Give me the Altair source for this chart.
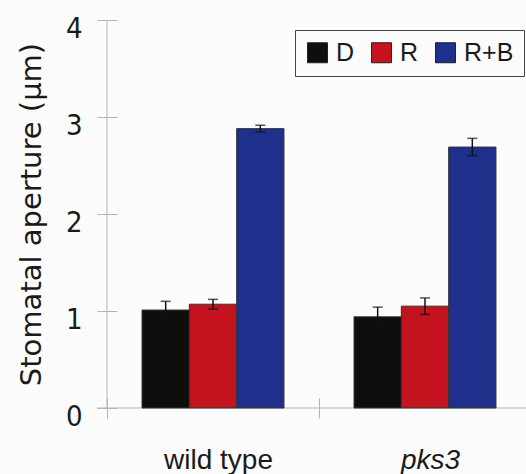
import altair as alt
import pandas as pd

groups = ["wild type", "pks3"]
treatments = ["D", "R", "R+B"]
means_wt = [1.01, 1.07, 2.88]
means_pks3 = [0.94, 1.05, 2.69]
errs_wt = [0.09, 0.05, 0.035]
errs_pks3 = [0.10, 0.085, 0.09]
colors = ["#0e0e0c", "#c4121f", "#1f2f8c"]
y_ticks = [0, 1, 2, 3, 4]

rows = []
for g, ms, es in [(groups[0], means_wt, errs_wt), (groups[1], means_pks3, errs_pks3)]:
    for t, m, e in zip(treatments, ms, es):
        rows.append({"group": g, "treatment": t, "mean": m, "lo": m - e, "hi": m + e})
df = pd.DataFrame(rows)

NARROW = "DejaVu Sans Condensed, Liberation Sans Narrow, Liberation Sans, Arial"
REG = "Liberation Sans, Arial"
WIDE = "DejaVu Sans, Liberation Sans, Arial"
AXC = "#b4b4b4"

x_enc = alt.X(
    "group:N",
    sort=groups,
    scale=alt.Scale(range=[0, 424], paddingInner=0, paddingOuter=0),
    axis=alt.Axis(
        title=None,
        domain=False,
        tickBand="extent",
        tickSize=20,
        tickColor=AXC,
        offset=-10,
        labelAngle=0,
        labelFont=REG,
        labelFontSize=28,
        labelColor="#1a1a1a",
        labelPadding=28,
        labelOffset=5,
        labelFontStyle={"condition": {"test": "datum.value == 'pks3'", "value": "italic"}, "value": "normal"},
    ),
)
xo_enc = alt.XOffset("treatment:N", sort=treatments,
                     scale=alt.Scale(paddingInner=0, paddingOuter=0.74))

bars = alt.Chart(df).mark_bar(stroke="#333333", strokeWidth=1).encode(
    x=x_enc,
    xOffset=xo_enc,
    y=alt.Y(
        "mean:Q",
        scale=alt.Scale(domain=[0, 4], nice=False),
        axis=alt.Axis(
            title="Stomatal aperture (µm)",
            values=y_ticks,
            format="d",
            domain=False,
            grid=False,
            tickSize=20,
            tickColor=AXC,
            offset=-10,
            labelFont=NARROW,
            labelFontSize=29,
            labelColor="#1a1a1a",
            labelPadding=15,
            labelOffset=8,
            titleFont=WIDE,
            titleFontSize=29,
            titleFontWeight="normal",
            titleColor="#1a1a1a",
            titlePadding=19,
        ),
    ),
    fill=alt.Fill(
        "treatment:N",
        sort=treatments,
        scale=alt.Scale(domain=treatments, range=colors),
        legend=alt.Legend(
            title=None,
            orient="none",
            legendX=188,
            legendY=10,
            direction="horizontal",
            symbolType="square",
            symbolSize=400,
            symbolStrokeColor="#222222",
            symbolStrokeWidth=1,
            labelFont=REG,
            labelFontSize=25,
            labelColor="#1a1a1a",
            labelOffset=6,
            columnPadding=14,
            padding=10,
            strokeColor="#444444",
            fillColor="#fcfcfc",
        ),
    ),
)

err = alt.Chart(df).mark_rule(color="#111111", strokeWidth=1.5).encode(
    x=alt.X("group:N", sort=groups),
    xOffset=alt.XOffset("treatment:N", sort=treatments),
    y="lo:Q",
    y2="hi:Q",
)
cap_hi = alt.Chart(df).mark_tick(color="#111111", size=10, thickness=1.5).encode(
    x=alt.X("group:N", sort=groups),
    xOffset=alt.XOffset("treatment:N", sort=treatments),
    y="hi:Q",
)
cap_lo = alt.Chart(df).mark_tick(color="#111111", size=10, thickness=1.5).encode(
    x=alt.X("group:N", sort=groups),
    xOffset=alt.XOffset("treatment:N", sort=treatments),
    y="lo:Q",
)

axes_df = pd.DataFrame({"lo": [0], "hi": [4]})
y_line = alt.Chart(axes_df).mark_rule(color=AXC, strokeWidth=1).encode(
    x=alt.value(0), y="lo:Q", y2="hi:Q"
)
x_line = alt.Chart(axes_df).mark_rule(color=AXC, strokeWidth=1).encode(
    x=alt.value(-10), x2=alt.value(430), y="lo:Q"
)

chart = alt.layer(y_line, x_line, bars, err, cap_hi, cap_lo).properties(
    width=419,
    height=388,
    autosize=alt.AutoSizeParams(type="none"),
    padding={"left": 107, "top": 20, "right": 0, "bottom": 66},
    background="#fcfcfc",
).configure_view(stroke=None)

chart.save("out.html", embed_options={"renderer": "svg", "actions": False})
